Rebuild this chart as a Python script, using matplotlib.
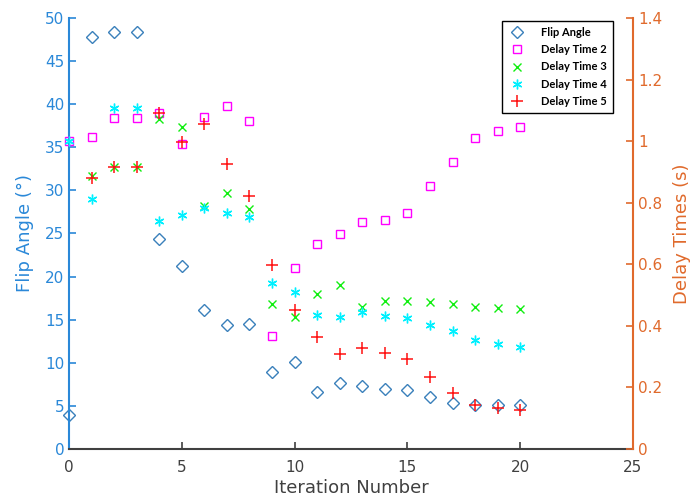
import matplotlib
matplotlib.use("Agg")
import matplotlib.pyplot as plt

iterations = list(range(0, 21))
flip_angle = [4.0, 47.8, 48.4, 48.4, 24.4, 21.2, 16.1, 14.4, 14.5, 8.9, 10.1,
              6.6, 7.7, 7.3, 7.0, 6.8, 6.0, 5.3, 5.1, 5.1, 5.1]
delay2 = [1.00, 1.013, 1.075, 1.075, 1.09, 0.99, 1.08, 1.114, 1.065, 0.367, 0.588,
          0.666, 0.698, 0.737, 0.744, 0.766, 0.854, 0.932, 1.01, 1.033, 1.046]
iter_1 = list(range(1, 21))
delay3 = [0.887, 0.916, 0.916, 1.072, 1.046, 0.789, 0.831, 0.779, 0.471, 0.429,
          0.503, 0.533, 0.461, 0.481, 0.481, 0.477, 0.471, 0.461, 0.458, 0.455]
delay4 = [1.00, 0.812, 1.107, 1.107, 0.740, 0.760, 0.782, 0.766, 0.754, 0.539, 0.510,
          0.435, 0.429, 0.445, 0.432, 0.425, 0.403, 0.383, 0.354, 0.341, 0.331]
delay5 = [0.880, 0.916, 0.916, 1.091, 0.997, 1.056, 0.926, 0.822, 0.598, 0.451,
          0.364, 0.309, 0.328, 0.312, 0.292, 0.234, 0.182, 0.143, 0.133, 0.127]

left_color = "#2a88d8"
right_color = "#e06a2c"
axis_dark = "#404040"

fig = plt.figure(figsize=(6.94, 5.03), dpi=100)
ax = fig.add_axes([69/694, 1-449/503, (633-69)/694, (449-18)/503])
ax2 = ax.twinx()

ms = 6
h1, = ax.plot(iterations, flip_angle, linestyle="none", marker="D", markersize=5.8,
              markerfacecolor="none", markeredgecolor="#3a80bb", markeredgewidth=1.0,
              label="Flip Angle", clip_on=False)
h2, = ax2.plot(iterations, delay2, linestyle="none", marker="s", markersize=5.8,
               markerfacecolor="none", markeredgecolor="#ff00ff", markeredgewidth=1.0,
               label="Delay Time 2", clip_on=False)
h3, = ax2.plot(iter_1, delay3, linestyle="none", marker="x", markersize=ms,
               color="#11ee11", markeredgewidth=1.0, label="Delay Time 3", clip_on=False)
h4, = ax2.plot(iterations, delay4, linestyle="none", marker=(6, 2, 0), markersize=ms + 1,
               color="#00f0ff", markeredgewidth=1.0, label="Delay Time 4", clip_on=False)
h5, = ax2.plot(iter_1, delay5, linestyle="none", marker="+", markersize=ms + 2.5,
               color="#ff1111", markeredgewidth=1.1, label="Delay Time 5", clip_on=False)

ax.set_xlim(0, 25)
ax.set_ylim(0, 50)
ax2.set_ylim(0, 1.4)
ax.set_xticks([0, 5, 10, 15, 20, 25])
ax.set_yticks(range(0, 51, 5))
ax2.set_yticks([0, 0.2, 0.4, 0.6, 0.8, 1.0, 1.2, 1.4])
ax2.set_yticklabels(["0", "0.2", "0.4", "0.6", "0.8", "1", "1.2", "1.4"])

for a in (ax, ax2):
    a.spines["top"].set_visible(False)
ax.spines["right"].set_visible(False)
ax2.spines["left"].set_visible(False)
ax2.spines["bottom"].set_visible(False)
ax.spines["left"].set_color(left_color)
ax.spines["bottom"].set_color(axis_dark)
ax2.spines["right"].set_color(right_color)
for s in ("left", "bottom"):
    ax.spines[s].set_linewidth(1.5)
ax2.spines["right"].set_linewidth(1.5)

ax.tick_params(axis="y", direction="in", colors=left_color, labelsize=11, length=5, width=1.2)
ax.tick_params(axis="x", direction="in", colors=axis_dark, labelsize=11, length=5, width=1.2, pad=8)
ax2.tick_params(axis="y", direction="in", colors=right_color, labelsize=11, length=5, width=1.2)

ax.set_xlabel("Iteration Number", fontsize=13, color=axis_dark, labelpad=3)
ax.set_ylabel("Flip Angle (°)", fontsize=13, color=left_color, labelpad=8)
ax2.set_ylabel("Delay Times (s)", fontsize=13, color=right_color, labelpad=8)

leg = ax2.legend(handles=[h1, h2, h3, h4, h5], loc="upper right",
                 bbox_to_anchor=(619/694, 1-15/503), bbox_transform=fig.transFigure,
                 fancybox=False, framealpha=1, edgecolor="black",
                 prop={"family": "Lato", "weight": "bold", "size": 8},
                 handletextpad=1.4, borderpad=0.6, labelspacing=0.55, handlelength=1.5)
leg.get_frame().set_linewidth(1.0)

fig.savefig("out.png", dpi=100)
